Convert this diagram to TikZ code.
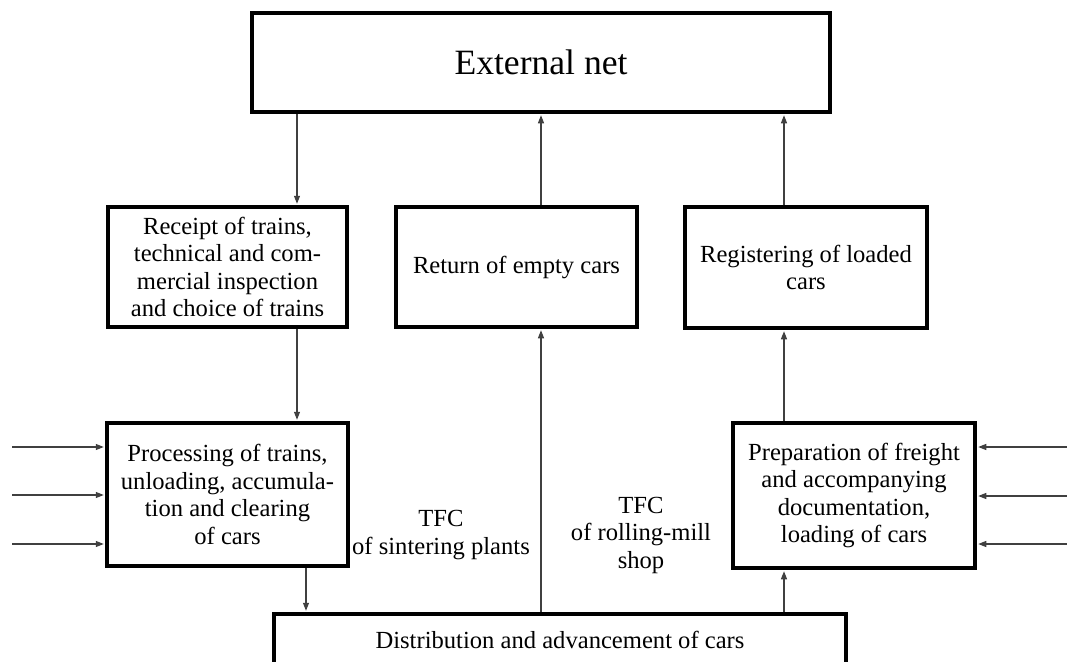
\documentclass[tikz,border=0pt]{standalone}
\usepackage{fontspec}
\setmainfont{Liberation Serif}
\usetikzlibrary{arrows.meta}
\tikzset{
  box/.style={draw, line width=3.5pt, align=center, inner sep=0pt,
    font=\fontsize{24.6}{27.5}\selectfont},
  conn/.style={draw=black!75, line width=1.2pt, shorten >=1.5pt,
    -{Triangle[length=8pt,width=6pt]}},
  lbl/.style={align=center, inner sep=0pt,
    font=\fontsize{24.6}{27.5}\selectfont}
}

\begin{document}
\begin{tikzpicture}[x=1pt,y=-1pt]
\useasboundingbox (0,0) rectangle (1067,661);
\clip (0,0) rectangle (1067,661);
\node[box, minimum width=578pt, minimum height=99pt,
  font=\fontsize{35.6}{40}\selectfont] (ext) at (541,62.5) {External net};
\node[box, minimum width=239pt, minimum height=120pt] (rec) at (227.5,267)
  {Receipt of trains,\\technical and com-\\mercial inspection\\and choice of trains};
\node[box, minimum width=241pt, minimum height=120pt] (ret) at (516.5,267)
  {Return of empty cars};
\node[box, minimum width=242pt, minimum height=121pt] (reg) at (806,267.5)
  {Registering of loaded\\cars};
\node[box, minimum width=241pt, minimum height=143pt] (proc) at (227.5,494.5)
  {Processing of trains,\\unloading, accumula-\\tion and clearing\\of cars};
\node[box, minimum width=242pt, minimum height=145pt] (prep) at (854,495.5)
  {Preparation of freight\\and accompanying\\documentation,\\loading of cars};
\node[box, minimum width=572pt, minimum height=52pt] (dist) at (560,640)
  {Distribution and advancement of cars};
\node[lbl] (tfcs) at (441,535) {TFC\\of sintering plants};
\node[lbl] (tfcr) at (641,535) {TFC\\of rolling-mill\\shop};
\coordinate (colA) at (297,0);
\coordinate (colB) at (541,0);
\coordinate (colC) at (784,0);
\coordinate (colD) at (306,0);
\draw[conn] (ext.south -| colA) -- (rec.north -| colA);
\draw[conn] (ret.north -| colB) -- (ext.south -| colB);
\draw[conn] (reg.north -| colC) -- (ext.south -| colC);
\draw[conn] (rec.south -| colA) -- (proc.north -| colA);
\draw[conn] (dist.north -| colB) -- (ret.south -| colB);
\draw[conn] (prep.north -| colC) -- (reg.south -| colC);
\draw[conn] (proc.south -| colD) -- (dist.north -| colD);
\draw[conn] (dist.north -| colC) -- (prep.south -| colC);
\coordinate (inL1) at (12,447);
\coordinate (inL2) at (12,495);
\coordinate (inL3) at (12,544);
\coordinate (inR1) at (1067,447);
\coordinate (inR2) at (1067,496);
\coordinate (inR3) at (1067,544);
\draw[conn] (inL1) -- (inL1 -| proc.west);
\draw[conn] (inL2) -- (inL2 -| proc.west);
\draw[conn] (inL3) -- (inL3 -| proc.west);
\draw[conn] (inR1) -- (inR1 -| prep.east);
\draw[conn] (inR2) -- (inR2 -| prep.east);
\draw[conn] (inR3) -- (inR3 -| prep.east);
\end{tikzpicture}
\end{document}
